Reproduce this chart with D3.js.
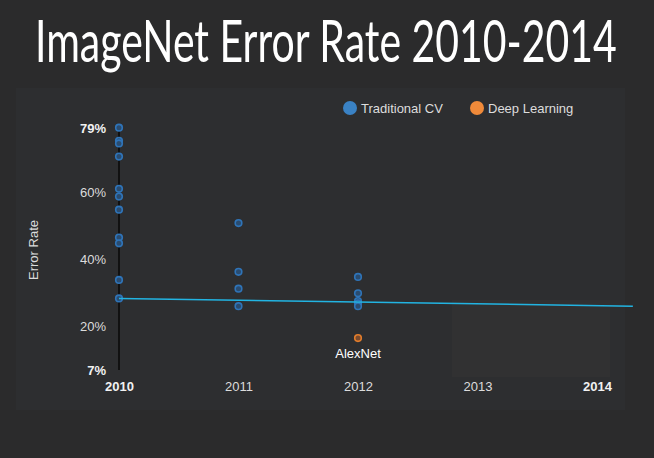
<!DOCTYPE html>
<html>
<head>
<meta charset="utf-8">
<script src="https://cdn.jsdelivr.net/npm/d3@7"></script>
<style>
  html, body { margin: 0; padding: 0; background: #2b2b2c; }
  svg { display: block; }
</style>
</head>
<body>
<svg id="chart" width="654" height="458"></svg>
<script>
// ---- data ----
const years = [2010, 2011, 2012, 2013, 2014];
const yTicks = [7, 20, 40, 60, 79];
const trad2010 = [79.1, 75.2, 74.4, 70.5, 60.9, 58.6, 54.7, 46.4, 44.7, 33.8, 28.3];
const trad2011 = [50.7, 36.2, 31.2, 26.0];
const trad2012 = [34.7, 29.8, 27.5, 26.8, 26.0];
const deep2012 = [16.5];
const trendYears = [2010, 2014.3];
const trendValues = [28.3, 26.0];
const seriesNames = ["Traditional CV", "Deep Learning"];
const seriesColors = ["#2f74b8", "#e27d2c"];
const seriesFills = ["#2a4c70", "#7a4a2c"];
const legendColors = ["#3a82c4", "#ef8a3a"];

const svg = d3.select("#chart");
const W = 654, H = 458;

svg.append("rect").attr("width", W).attr("height", H).attr("fill", "#2b2b2c");
svg.append("rect").attr("x", 16).attr("y", 88).attr("width", 609).attr("height", 322).attr("fill", "#2d2e30");
svg.append("rect").attr("x", 452).attr("y", 300).attr("width", 158).attr("height", 77).attr("fill", "#313132");

// title
const title = svg.append("text")
  .attr("x", 0).attr("y", 62)
  .attr("fill", "#ffffff")
  .attr("font-family", "Lato, 'Open Sans', sans-serif")
  .attr("font-size", 59)
  .text("ImageNet Error Rate 2010-2014");
{
  const bb = title.node().getBBox();
  const sx = 582 / bb.width;
  title.attr("transform", `translate(35,0) scale(${sx},1)`);
}

const x = d3.scaleLinear().domain([2010, 2014]).range([119, 597]);
const y = d3.scaleLinear().domain([7, 79]).range([370, 128]);

// vertical axis line at 2010
svg.append("line")
  .attr("x1", x(2010)).attr("x2", x(2010))
  .attr("y1", y(79)).attr("y2", y(7))
  .attr("stroke", "#111").attr("stroke-width", 2);

const labelFont = "'Liberation Sans', Arial, sans-serif";

// y axis labels
const yAxis = d3.axisLeft(y).tickValues(yTicks).tickFormat(d => d + "%").tickSize(0).tickPadding(0);
const yg = svg.append("g").attr("transform", `translate(106,0)`).call(yAxis);
yg.select(".domain").remove();
yg.selectAll("text")
  .attr("fill", (d, i) => (i === 0 || i === yTicks.length - 1) ? "#f2f2f2" : "#dcdcdc")
  .attr("font-weight", (d, i) => (i === 0 || i === yTicks.length - 1) ? "bold" : "normal")
  .attr("font-family", labelFont)
  .attr("font-size", 13);

// x axis labels
const xAxis = d3.axisBottom(x).tickValues(years).tickFormat(d3.format("d")).tickSize(0).tickPadding(0);
const xg = svg.append("g").attr("transform", `translate(0,382)`).call(xAxis);
xg.select(".domain").remove();
xg.selectAll("text")
  .attr("fill", (d, i) => (i === 0 || i === years.length - 1) ? "#f2f2f2" : "#dcdcdc")
  .attr("font-weight", (d, i) => (i === 0 || i === years.length - 1) ? "bold" : "normal")
  .attr("font-family", labelFont)
  .attr("font-size", 13);

// axis title
svg.append("text")
  .attr("transform", `translate(38,250) rotate(-90)`)
  .attr("text-anchor", "middle")
  .attr("fill", "#dcdcdc")
  .attr("font-family", labelFont)
  .attr("font-size", 13)
  .text("Error Rate");

// points
const tradPts = [
  ...trad2010.map(v => ({ year: 2010, v })),
  ...trad2011.map(v => ({ year: 2011, v })),
  ...trad2012.map(v => ({ year: 2012, v }))
];
const deepPts = deep2012.map(v => ({ year: 2012, v }));

svg.append("g").selectAll("circle").data(tradPts).join("circle")
  .attr("cx", d => x(d.year)).attr("cy", d => y(d.v)).attr("r", 3.3)
  .attr("fill", seriesFills[0]).attr("stroke", seriesColors[0]).attr("stroke-width", 1.6);

// trend line
const line = d3.line().x(d => x(d[0])).y(d => y(d[1]));
svg.append("path")
  .attr("d", line(trendYears.map((t, i) => [t, trendValues[i]])))
  .attr("fill", "none").attr("stroke", "#22b4e2").attr("stroke-width", 1.5);

svg.append("g").selectAll("circle").data(deepPts).join("circle")
  .attr("cx", d => x(d.year)).attr("cy", d => y(d.v)).attr("r", 3.3)
  .attr("fill", seriesFills[1]).attr("stroke", seriesColors[1]).attr("stroke-width", 1.6);

svg.append("text")
  .attr("x", x(2012)).attr("y", y(deep2012[0]) + 20)
  .attr("text-anchor", "middle")
  .attr("fill", "#ffffff")
  .attr("font-family", labelFont)
  .attr("font-size", 13)
  .text("AlexNet");

// legend
const legendX = [350, 477];
const lg = svg.append("g");
seriesNames.forEach((name, i) => {
  lg.append("circle").attr("cx", legendX[i]).attr("cy", 108).attr("r", 7).attr("fill", legendColors[i]);
  lg.append("text").attr("x", legendX[i] + 11).attr("y", 112.5)
    .attr("fill", "#dddddd")
    .attr("font-family", labelFont)
    .attr("font-size", 13)
    .text(name);
});
</script>
</body>
</html>
